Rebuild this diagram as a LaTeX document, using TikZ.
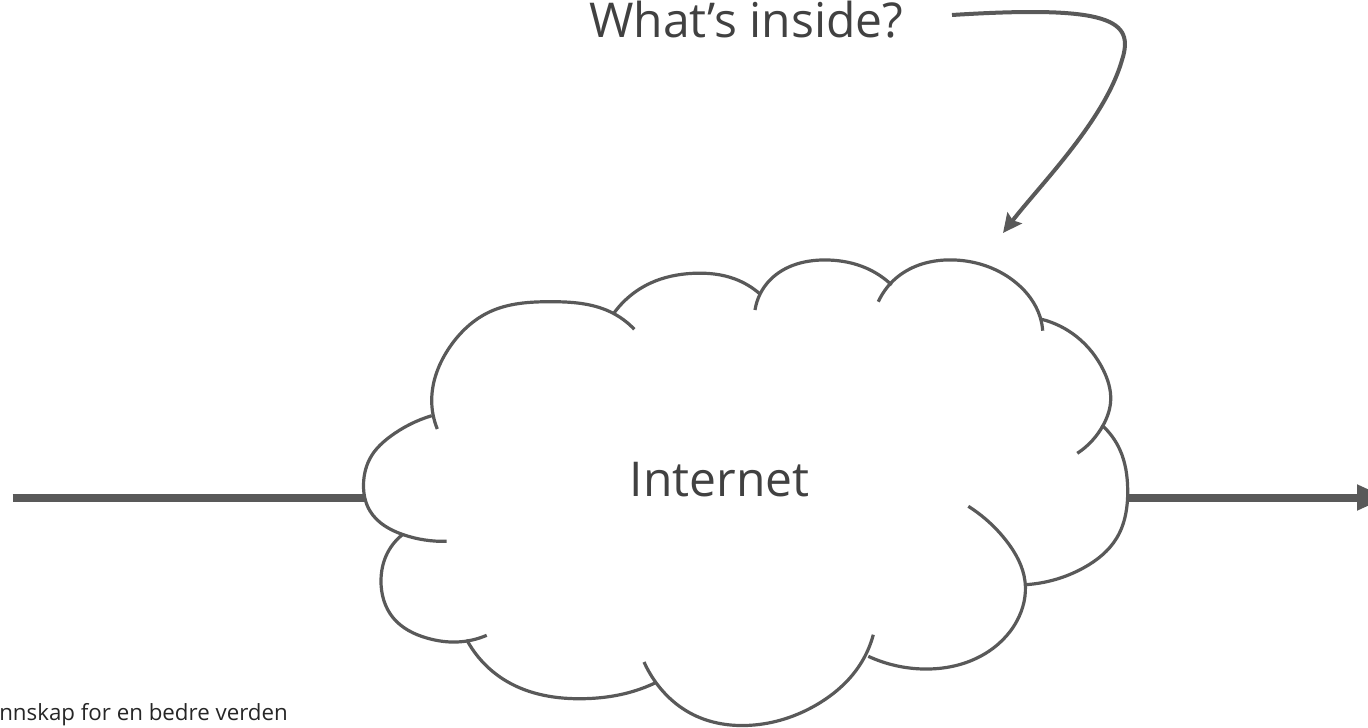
\documentclass[tikz,border=0pt]{standalone}
\usepackage{fontspec}
\setmainfont{Open Sans}
\usetikzlibrary{arrows.meta,hobby}
\definecolor{linegray}{HTML}{595959}
\definecolor{textgray}{HTML}{414141}
\definecolor{foottext}{HTML}{262626}
\tikzset{
  lobe/.style={draw=linegray, line width=3.2pt, line cap=butt, use Hobby shortcut},
  thick line/.style={draw=linegray, line width=8pt},
  curvearrow/.style={draw=linegray, line width=4pt, -{Stealth[length=19pt,width=18pt,inset=3pt]}},
  bigtext/.style={inner sep=0pt, text=textgray, font=\fontsize{48}{56}\selectfont},
  foot/.style={inner sep=0pt, text=foottext, font=\fontsize{22.3}{26}\selectfont}
}
\begin{document}
\begin{tikzpicture}[x=1pt,y=-1pt]
\useasboundingbox (0,0) rectangle (1368,728);
% texts
\node[bigtext, anchor=base west] (q) at (589,37.5) {What’s inside?};
\node[bigtext, anchor=base west] (inet) at (629.5,496.7) {Internet};
\node[foot, anchor=base east] (slogan) at (288,720.7) {nnskap for en bedre verden};
% cloud lobes
\draw[lobe] (437.3,429) .. (431.7,400) .. (450,346.7) .. (490,311.7) .. (550,301.7) .. (610,311.7) .. (634.3,329.3);
\draw[lobe] (613.3,314) .. (650,283.3) .. (693.3,273.3) .. (735,279) .. (760,294);
\draw[lobe] (755,310) .. (770,280) .. (828.3,260) .. (866.7,268.3) .. (891.7,285);
\draw[lobe] (878.3,301.7) .. (900,275) .. (955,260) .. (1016.7,283.3) .. (1040,316.7) .. (1042.7,330.7);
\draw[lobe] (1041.7,319.3) .. (1076.7,336.7) .. (1103.3,370) .. (1110.7,400) .. (1103.3,425) .. (1077.3,453.3);
\draw[lobe] (1101.7,425) .. (1120,450) .. (1127.7,490) .. (1116.7,538) .. (1083.3,568) .. (1025,584.7);
\draw[lobe] (968.3,506.3) .. (1006.7,541.3) .. (1025,581.3) .. (1016.7,621.3) .. (983.3,654.7) .. (923.3,669) .. (868.3,656.3);
\draw[lobe] (873.3,634.7) .. (860,664.7) .. (816.7,704.7) .. (750,725.3) .. (693.3,714.7) .. (655,681.3) .. (644,662);
\draw[lobe] (655,683) .. (633.3,691.3) .. (583.3,698.7) .. (506.7,681.3) .. (466.7,639.7);
\draw[lobe] (486.7,635.3) .. (456.7,642) .. (426.7,638) .. (393.3,618) .. (381,580) .. (386,556) .. (403.3,534);
\draw[lobe] (446.7,541.3) .. (403.3,534.7) .. (370,511) .. (363.5,485) .. (372,455) .. (390,436.7) .. (431.7,415.7);
% connection points
\coordinate (inStart) at (12.7,497.5);
\coordinate (cloudW) at (364,497.5);
\coordinate (cloudE) at (1127,497.5);
\coordinate (outEnd) at (1387,497.5);
\coordinate (qStart) at (952,15);
\coordinate (qTip) at (1003,233);
% connectors
\draw[thick line] (inStart) -- (cloudW);
\draw[thick line, -{Triangle[length=30pt,width=24pt]}] (cloudE) -- (outEnd);
\draw[curvearrow] (qStart) .. controls (1110,5) and (1135,20) .. (1122,60) .. controls (1105,120) and (1040,185) .. (qTip);
\end{tikzpicture}
\end{document}
